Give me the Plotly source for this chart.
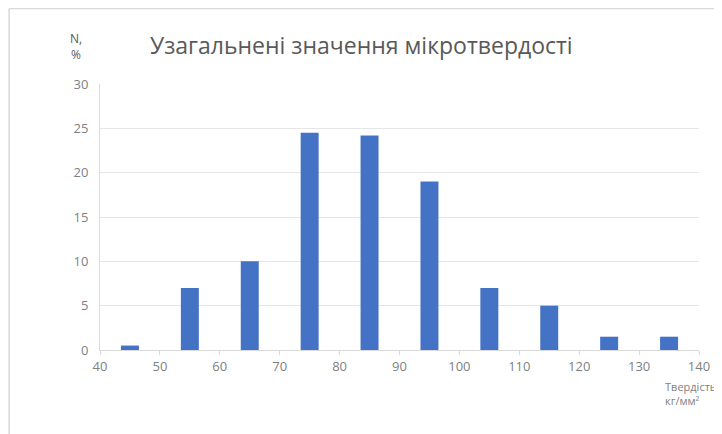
import plotly.graph_objects as go

hardness = [45, 55, 65, 75, 85, 95, 105, 115, 125, 135]
percent = [0.5, 7, 10, 24.5, 24.2, 19, 7, 5, 1.5, 1.5]
x_ticks = [40, 50, 60, 70, 80, 90, 100, 110, 120, 130, 140]
y_ticks = [0, 5, 10, 15, 20, 25, 30]

title_text = "Узагальнені значення мікротвердості"
y_label = "N,<br>%"
x_label = "Твердість,<br>кг/мм²"

# page offset of 8px is applied by the browser body margin
W, H = 714, 426
ml, mr, mt, mb = 92, 19, 76, 84
pw, ph = W - ml - mr, H - mt - mb

def px(x):
    return (x - ml) / pw

def py(y):
    return (H - mb - y) / ph

fig = go.Figure(go.Bar(x=hardness, y=percent, width=3.0,
                       marker=dict(color="#4472C4", line=dict(width=0))))

fig.update_layout(
    width=W, height=H,
    margin=dict(l=ml, r=mr, t=mt, b=mb),
    paper_bgcolor="white", plot_bgcolor="white",
    font=dict(family="Open Sans, Calibri, sans-serif", color="#7f7f7f", size=13),
    showlegend=False,
    xaxis=dict(range=[40, 140], tickvals=x_ticks, ticktext=[str(v) for v in x_ticks],
               showgrid=False, zeroline=False, showline=True, linecolor="#d9d9d9",
               ticks="outside", ticklen=4, tickcolor="#d9d9d9",
               tickfont=dict(size=13, color="#7f7f7f")),
    yaxis=dict(range=[0, 30], tickvals=y_ticks, showgrid=True, gridcolor="#e6e6e6",
               zeroline=False, showline=True, linecolor="#d9d9d9",
               tickfont=dict(size=13, color="#7f7f7f"), ticks="", ticklabelstandoff=8),
)

fig.add_annotation(text=title_text, xref="paper", yref="paper",
                   x=px(140), y=py(37),
                   xanchor="left", yanchor="middle", showarrow=False,
                   font=dict(size=23, color="#595959"))
fig.add_annotation(text=y_label, xref="paper", yref="paper",
                   x=px(68), y=py(39),
                   xanchor="center", yanchor="middle", showarrow=False, align="center",
                   font=dict(size=12, color="#595959"))
fig.add_annotation(text=x_label, xref="paper", yref="paper",
                   x=px(659), y=py(386),
                   xanchor="left", yanchor="middle", showarrow=False, align="left",
                   font=dict(size=11, color="#7f7f7f"))

# chart frame (top and left edges)
fig.add_shape(type="line", xref="paper", yref="paper",
              x0=px(0.5), x1=px(W), y0=py(0.5), y1=py(0.5),
              line=dict(color="#d9d9d9", width=1.5))
fig.add_shape(type="line", xref="paper", yref="paper",
              x0=px(0.5), x1=px(0.5), y0=py(0.5), y1=py(H),
              line=dict(color="#d9d9d9", width=1.5))

fig.write_html("out.html")
